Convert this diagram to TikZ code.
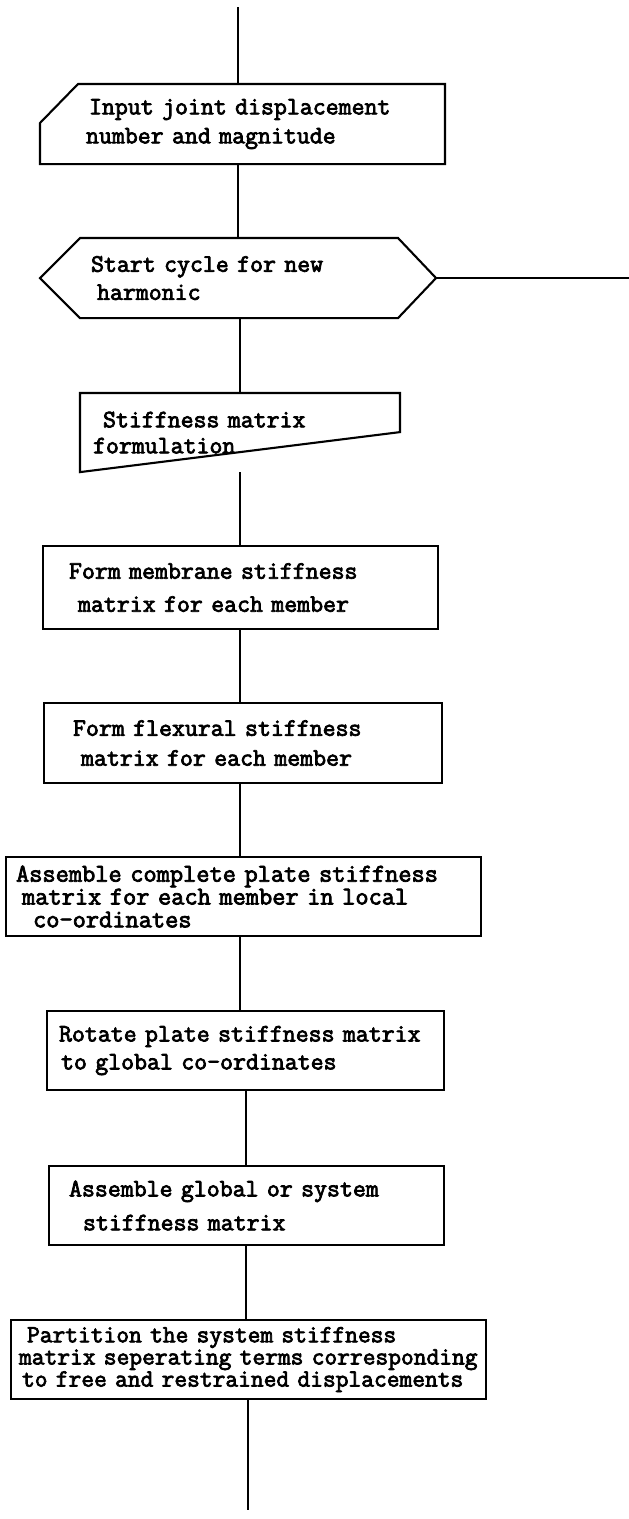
\documentclass[tikz,border=0pt]{standalone}
\usepackage{fontspec}
\newfontfamily\typer[FakeBold=3]{Latin Modern Mono}
\usepackage{tikz}
\usetikzlibrary{calc,positioning}

\begin{document}
\begin{tikzpicture}[x=0.02cm, y=-0.02cm,
    box/.style={draw, line width=1.2pt, align=left, inner sep=0pt, anchor=north west},
    frame/.style={box, draw=none},
    outline/.style={line width=1.2pt, line join=miter},
    lead/.style 2 args={font=\typer\fontsize{#1}{#2}\selectfont},
    link/.style={line width=1pt}]

    \useasboundingbox (0,0) rectangle (629,1519);

    % Spine of the chart
    \coordinate (start) at (238,7);
    \coordinate (spineA) at (240,0);
    \coordinate (spineB) at (246,0);
    \coordinate (finish) at (248,1510);
    \coordinate (loop) at (629,0);

    % Input and harmonic loop
    \node[frame, lead={14.3pt}{16.5pt}, minimum height=1.56cm, text width=8.06cm] (inp) at (40,84)
        {\hspace*{0.96cm}Input joint displacement\\\hspace*{0.9cm}number and magnitude};
    \draw[outline] ($(inp.north west)+(38,0)$) -- (inp.north east) -- (inp.south east)
        -- (inp.south west) -- ($(inp.north west)+(0,39)$) -- cycle;

    \node[frame, lead={14.3pt}{16pt}, minimum height=1.56cm, text width=7.88cm] (hex) at (40,238)
        {\hspace*{1cm}Start cycle for new\\\hspace*{1.12cm}harmonic};
    \draw[outline] ($(hex.north west)+(40,0)$) -- ($(hex.north east)+(-38,0)$) -- (hex.east)
        -- ($(hex.south east)+(-38,0)$) -- ($(hex.south west)+(40,0)$) -- (hex.west) -- cycle;

    \node[frame, lead={14.3pt}{14.8pt}, minimum height=1.54cm, text width=6.36cm] (stiff) at (80,393)
        {\hspace*{0.44cm}Stiffness matrix\\\hspace*{0.24cm}formulation};
    \draw[outline] (stiff.north west) -- (stiff.north east) -- ($(stiff.south east)+(0,-40)$)
        -- (stiff.south west) -- cycle;

    % Stiffness steps
    \node[box, lead={14.3pt}{18.8pt}, minimum height=1.66cm, text width=7.9cm] (memb) at (42,545)
        {\hspace*{0.52cm}Form membrane stiffness\\\hspace*{0.7cm}matrix for each member};
    \node[box, lead={14.3pt}{17pt}, minimum height=1.6cm, text width=7.96cm] (flex) at (43,702)
        {\hspace*{0.58cm}Form flexural stiffness\\\hspace*{0.74cm}matrix for each member};
    \node[box, lead={14.6pt}{13pt}, minimum height=1.58cm, text width=9.5cm] (asmb) at (5,856)
        {\hspace*{0.2cm}Assemble complete plate stiffness\\\hspace*{0.32cm}matrix for each member in local\\\hspace*{0.54cm}co-ordinates};
    \node[box, lead={14.3pt}{15.9pt}, minimum height=1.58cm, text width=7.94cm] (rot) at (46,1010)
        {\hspace*{0.24cm}Rotate plate stiffness matrix\\\hspace*{0.28cm}to global co-ordinates};
    \node[box, lead={14.3pt}{19.3pt}, minimum height=1.58cm, text width=7.9cm] (glob) at (48,1165)
        {\hspace*{0.4cm}Assemble global or system\\\hspace*{0.68cm}stiffness matrix};
    \node[box, lead={14.1pt}{12.6pt}, minimum height=1.58cm, text width=9.5cm] (part) at (10,1319)
        {\hspace*{0.32cm}Partition the system stiffness\\\hspace*{0.16cm}matrix seperating terms corresponding\\\hspace*{0.22cm}to free and restrained displacements};

    % Connections
    \draw[link] (start) -- (start |- inp.north);
    \draw[link] (inp.south -| start) -- (hex.north -| start);
    \draw[link] (hex.east) -- (hex.east -| loop);
    \draw[link] (hex.south -| spineA) -- (stiff.north -| spineA);
    \draw[link] (stiff.south -| spineA) -- (memb.north -| spineA);
    \foreach \a/\b in {memb/flex, flex/asmb, asmb/rot} {
        \draw[link] (\a.south -| spineA) -- (\b.north -| spineA);
    }
    \foreach \a/\b in {rot/glob, glob/part} {
        \draw[link] (\a.south -| spineB) -- (\b.north -| spineB);
    }
    \draw[link] (part.south -| finish) -- (finish);
\end{tikzpicture}
\end{document}
